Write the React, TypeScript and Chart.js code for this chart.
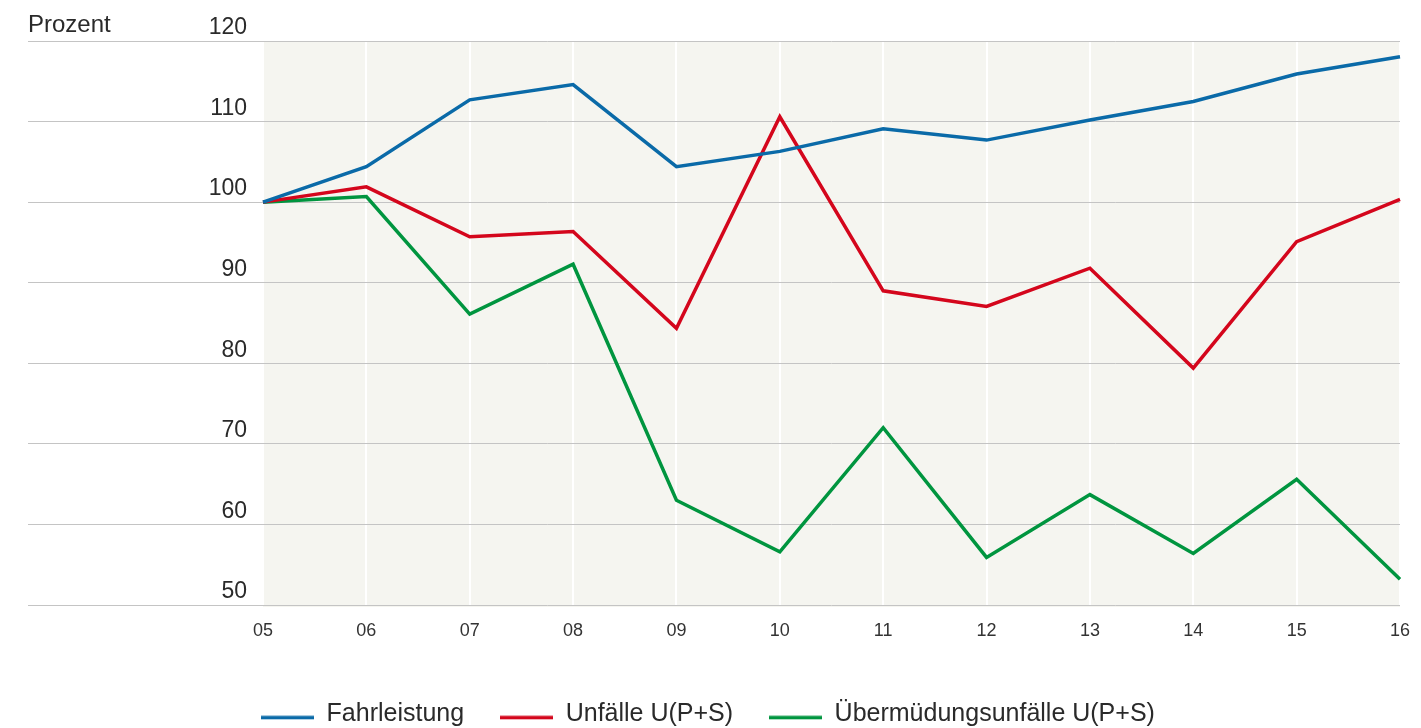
import React, { useEffect, useRef } from "react";
import { Chart, registerables } from "chart.js";

Chart.register(...registerables);

const years = ["05", "06", "07", "08", "09", "10", "11", "12", "13", "14", "15", "16"];
const fahrleistung = [100, 104.4, 112.7, 114.6, 104.4, 106.3, 109.1, 107.7, 110.2, 112.5, 115.9, 118.05];
const unfaelle = [100, 101.9, 95.7, 96.35, 84.35, 110.6, 89.0, 87.05, 91.8, 79.4, 95.1, 100.35];
const uebermuedung = [100, 100.7, 86.1, 92.3, 63.0, 56.6, 72.0, 55.9, 63.7, 56.4, 65.6, 53.2];
const seriesNames = ["Fahrleistung", "Unfälle U(P+S)", "Übermüdungsunfälle U(P+S)"];
const seriesColors = ["#0a6aa8", "#d4061c", "#00953f"];
const yMin = 50;
const yMax = 120;
const yStep = 10;
const axisTitle = "Prozent";

const FONT = "'Liberation Sans', Arial, sans-serif";

function legendSwatch(color: string) {
  const c = document.createElement("canvas");
  c.width = 53;
  c.height = 16;
  const g = c.getContext("2d")!;
  g.fillStyle = color;
  g.fillRect(0, 9.5, 53, 3.5);
  return c;
}

const bgPlugin = {
  id: "plotBg",
  beforeDraw(chart: any) {
    const { ctx, chartArea } = chart;
    ctx.save();
    ctx.fillStyle = "#f5f5f0";
    ctx.fillRect(chartArea.left, chartArea.top, chartArea.right - chartArea.left, chartArea.bottom - chartArea.top + 2);
    ctx.restore();
  },
};

const titlePlugin = {
  id: "axisTitleText",
  afterDraw(chart: any) {
    const { ctx } = chart;
    ctx.save();
    ctx.font = `24px ${FONT}`;
    ctx.fillStyle = "#2a2a2a";
    ctx.textAlign = "left";
    ctx.textBaseline = "middle";
    ctx.fillText(axisTitle, 28, 25);
    ctx.restore();
  },
};

export default function App() {
  const ref = useRef<HTMLCanvasElement | null>(null);

  useEffect(() => {
    if (!ref.current) return;
    const data = [fahrleistung, unfaelle, uebermuedung];
    const swatches = seriesColors.map(legendSwatch);
    const chart = new Chart(ref.current, {
      type: "line",
      data: {
        labels: years,
        datasets: data.map((d, i) => ({
          label: seriesNames[i],
          data: d,
          borderColor: seriesColors[i],
          backgroundColor: seriesColors[i],
          borderWidth: 3.5,
          pointRadius: 0,
          tension: 0,
          fill: false,
          borderJoinStyle: "miter" as const,
        })),
      },
      options: {
        animation: false,
        responsive: false,
        layout: { padding: { top: 41, right: 21, left: 16, bottom: -8.8 } },
        plugins: {
          tooltip: { enabled: false },
          legend: {
            position: "bottom",
            align: "center",
            labels: {
              usePointStyle: true,
              pointStyleWidth: 53,
              boxHeight: 16,
              padding: 36,
              color: "#2a2a2a",
              font: { family: FONT, size: 25 },
              generateLabels: (c: any) =>
                Chart.defaults.plugins.legend.labels
                  .generateLabels(c)
                  .map((l: any, i: number) => ({ ...l, lineWidth: 0, pointStyle: swatches[i] })),
            },
          },
        },
        scales: {
          x: {
            type: "category",
            offset: false,
            grid: { color: "#ffffff", lineWidth: 2, drawTicks: true, tickLength: 15, tickColor: "rgba(0,0,0,0)" },
            border: { display: false },
            ticks: { color: "#333333", font: { family: FONT, size: 18 }, padding: 0, maxRotation: 0 },
            afterFit: (s: any) => {
              s.height = 60.8;
            },
          },
          y: {
            min: yMin,
            max: yMax,
            grid: { color: "#c4c4c4", lineWidth: 1, tickLength: 235, drawTicks: true },
            border: { display: false },
            ticks: {
              stepSize: yStep,
              color: "#2a2a2a",
              font: { family: FONT, size: 23 },
              padding: -219,
              labelOffset: -13,
            },
            afterFit: (s: any) => {
              s.width = 247;
            },
          },
        },
      },
      plugins: [bgPlugin, titlePlugin],
    });
    return () => chart.destroy();
  }, []);

  return (
    <div style={{ position: "fixed", left: 0, top: 0, width: 1421, height: 728, background: "#ffffff" }}>
      <canvas ref={ref} width={1421} height={728} style={{ display: "block", width: 1421, height: 728 }} />
    </div>
  );
}
